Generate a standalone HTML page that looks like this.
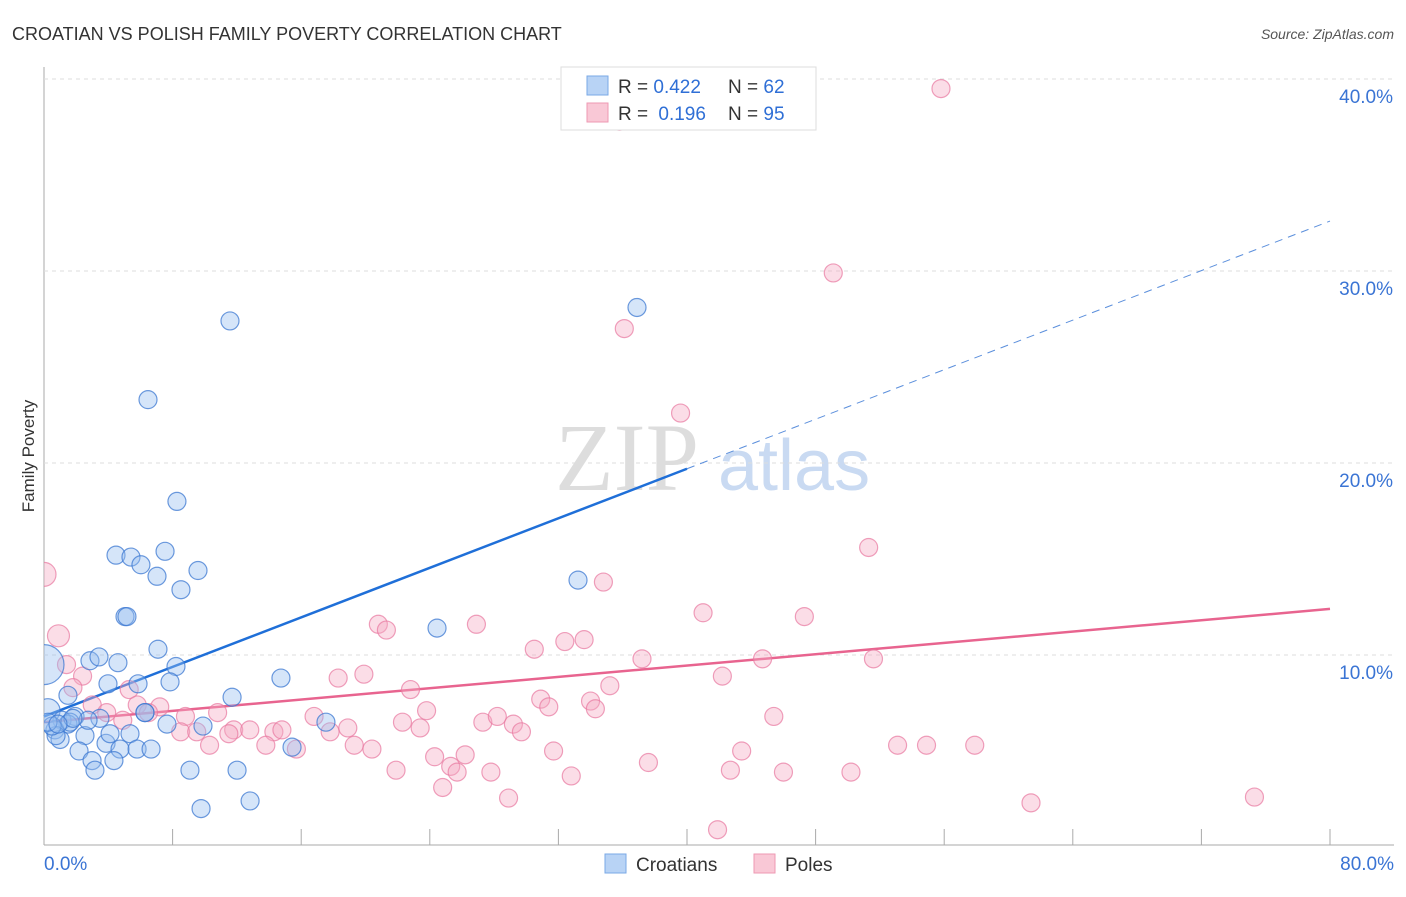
<!DOCTYPE html>
<html><head><meta charset="utf-8"><style>
body{margin:0;background:#fff;font-family:"Liberation Sans",sans-serif}
</style></head><body>
<svg id="chart" width="1406" height="892" xmlns="http://www.w3.org/2000/svg" font-family="Liberation Sans, sans-serif">
<defs><clipPath id="plotclip"><rect x="44" y="60" width="1360" height="786"/></clipPath></defs>
<text x="12" y="40" font-size="18" fill="#333">CROATIAN VS POLISH FAMILY POVERTY CORRELATION CHART</text>
<text x="1394" y="39" font-size="14" fill="#555" font-style="italic" text-anchor="end">Source: ZipAtlas.com</text>
<text x="34" y="456" font-size="17" fill="#333" text-anchor="middle" transform="rotate(-90 34 456)">Family Poverty</text>
<g><text x="555" y="490" font-size="96" fill="#ddd" font-family="Liberation Serif, serif">ZIP</text><text x="718" y="490" font-size="72" fill="#c9daf2">atlas</text></g>
<g id="grid"></g><g id="lines"></g><g id="pts" clip-path="url(#plotclip)"></g>
<g>
<rect x="561" y="67" width="255" height="63" fill="#fff" stroke="#ddd"/>
<rect x="587" y="76" width="21" height="19" fill="#b8d3f5" stroke="#7aa8e6"/>
<rect x="587" y="103" width="21" height="19" fill="#f9c8d6" stroke="#ee99b3"/>
<text x="618" y="93" font-size="19" fill="#333">R = <tspan fill="#2f6fd6">0.422</tspan><tspan x="728">N = </tspan><tspan fill="#2f6fd6">62</tspan></text>
<text x="618" y="120" font-size="19" fill="#333">R = <tspan fill="#2f6fd6" dx="5">0.196</tspan><tspan x="728">N = </tspan><tspan fill="#2f6fd6">95</tspan></text>
</g>
<g>
<rect x="605" y="854" width="21" height="19" fill="#b8d3f5" stroke="#7aa8e6"/><text x="636" y="871" font-size="19" fill="#333">Croatians</text>
<rect x="754" y="854" width="21" height="19" fill="#f9c8d6" stroke="#ee99b3"/><text x="785" y="871" font-size="19" fill="#333">Poles</text>
</g>
</svg>
<script>
const blueX=[11.57,36.89,6.47,8.27,4.48,5.41,7.53,6.03,7.03,9.58,8.52,5.04,5.16,7.09,24.45,33.22,8.21,2.86,3.42,4.60,14.74,7.84,5.85,3.98,1.49,11.70,0.25,6.28,3.48,1.93,1.12,1.49,0.68,2.55,5.35,9.89,17.54,1.00,3.86,4.73,2.18,5.79,6.66,4.35,2.99,3.17,9.08,12.01,9.77,12.82,15.43,0.75,7.65,0.50,4.11,6.28,0.0,1.62,2.74,0.25,1.80,0.87];
const blueY=[27.4,28.1,23.3,18.0,15.2,15.1,15.4,14.7,14.1,14.4,13.4,12.0,12.0,10.3,11.4,13.9,9.4,9.7,9.9,9.6,8.8,8.6,8.5,8.5,7.9,7.8,7.1,7.0,6.7,6.8,6.6,6.4,6.1,5.8,5.9,6.3,6.5,5.6,5.4,5.1,5.0,5.1,5.1,4.5,4.5,4.0,4.0,4.0,2.0,2.4,5.2,5.8,6.4,6.3,5.9,7.0,9.5,6.5,6.6,6.5,6.7,6.4];
const blueR=[9,9,9,9,9,9,9,9,9,9,9,9,9,9,9,9,9,9,9,9,9,9,9,9,9,9,12,9,9,9,9,9,9,9,9,9,9,9,9,9,9,9,9,9,9,9,9,9,9,9,9,9,9,9,9,9,20,9,9,9,9,9];
const pinkX=[55.8,35.8,49.1,36.1,39.6,51.3,34.8,41.0,47.3,0.0,0.9,20.8,21.3,26.9,30.5,32.4,33.6,37.2,44.7,51.6,1.4,2.4,1.8,5.3,19.9,18.3,22.8,35.2,42.2,30.9,31.4,34.0,34.3,45.4,3.0,3.9,5.8,7.2,4.9,6.5,8.8,10.8,16.8,23.8,22.3,27.3,28.2,29.2,29.7,23.4,17.8,18.9,11.8,12.8,14.3,14.8,8.5,9.5,11.5,13.8,10.3,15.7,19.3,20.4,31.7,26.2,24.3,43.4,53.1,54.9,57.9,37.6,25.3,25.7,21.9,27.8,32.8,42.7,46.0,50.2,24.8,28.9,61.4,75.3,41.9];
const pinkY=[39.5,37.8,29.9,27.0,22.6,15.6,13.8,12.2,12.0,14.2,11.0,11.6,11.3,11.6,10.3,10.7,10.8,9.8,9.8,9.8,9.5,8.9,8.3,8.2,9.0,8.8,8.2,8.4,8.9,7.7,7.3,7.6,7.2,6.8,7.4,7.0,7.4,7.3,6.6,7.0,6.8,7.0,6.8,7.1,6.5,6.5,6.8,6.4,6.0,6.2,6.0,6.2,6.1,6.1,6.0,6.1,6.0,6.0,5.9,5.3,5.3,5.1,5.3,5.1,5.0,4.8,4.7,5.0,5.3,5.3,5.3,4.4,4.2,3.9,4.0,3.9,3.7,4.0,3.9,3.9,3.1,2.55,2.3,2.6,0.9];
const pinkR=pinkX.map((v,i)=>i===9?12:(i===10?11:9));
const yTicks=[10,20,30,40];
const xTickCount=10;
const blueLine=[[0,6.8],[40,19.7],[80,32.6]];
const pinkLine=[[0,6.5],[80,12.4]];
const X0=44,X1=1330,YB=847,YT=79;
const sx=v=>X0+(v/80)*(X1-X0);
const sy=v=>YB-(v/40)*(YB-YT);
const NS="http://www.w3.org/2000/svg";
function mk(p,tag,at){const e=document.createElementNS(NS,tag);for(const k in at)e.setAttribute(k,at[k]);p.appendChild(e);return e;}
const grid=document.getElementById('grid');
const ax=mk(grid,'line',{x1:X0,y1:67,x2:X0,y2:845,stroke:'#aaa'});


const bx=mk(grid,'line',{x1:X0,y1:845,x2:1394,y2:845,stroke:'#aaa'});


yTicks.forEach(t=>{
 const l=mk(grid,'line',{x1:X0,y1:sy(t),x2:1394,y2:sy(t),stroke:'#ddd','stroke-dasharray':'4,4'});
 
 
 const tx=mk(grid,'text',{x:1393,y:sy(t)+24,'font-size':19,fill:'#3a74d4','text-anchor':'end'});
 tx.textContent=t.toFixed(1)+'%';
 
 
});
for(let i=1;i<=xTickCount;i++){
 const l=mk(grid,'line',{x1:sx(i*8),y1:829,x2:sx(i*8),y2:845,stroke:'#aaa'});
 
 
}
[[0,'0.0%','start',44],[80,'80.0%','end',1394]].forEach(a=>{
 const t=mk(grid,'text',{x:a[3],y:870,'font-size':19,fill:'#3a74d4','text-anchor':a[2]});
 t.textContent=a[1];
 
 
});
const pts=document.getElementById('pts');
pinkX.forEach((v,i)=>{
 const c=mk(pts,'circle',{cx:sx(v),cy:sy(pinkY[i]),r:pinkR[i],fill:'rgba(246,170,195,0.4)',stroke:'rgba(232,120,160,0.7)','stroke-width':1.2});
 
 
});
blueX.forEach((v,i)=>{
 const c=mk(pts,'circle',{cx:sx(v),cy:sy(blueY[i]),r:blueR[i],fill:'rgba(150,190,240,0.4)',stroke:'rgba(60,120,210,0.75)','stroke-width':1.2});
 
 
});
const lines=document.getElementById('lines');
const b1=mk(lines,'line',{x1:sx(blueLine[0][0]),y1:sy(blueLine[0][1]),x2:sx(blueLine[1][0]),y2:sy(blueLine[1][1]),stroke:'#1f6fd8','stroke-width':2.5});


const b2=mk(lines,'line',{x1:sx(blueLine[1][0]),y1:sy(blueLine[1][1]),x2:sx(blueLine[2][0]),y2:sy(blueLine[2][1]),stroke:'#5b8fdc','stroke-width':1,'stroke-dasharray':'8,6'});


const p1=mk(lines,'line',{x1:sx(pinkLine[0][0]),y1:sy(pinkLine[0][1]),x2:sx(pinkLine[1][0]),y2:sy(pinkLine[1][1]),stroke:'#e8648f','stroke-width':2.5});


</script>
</body></html>
